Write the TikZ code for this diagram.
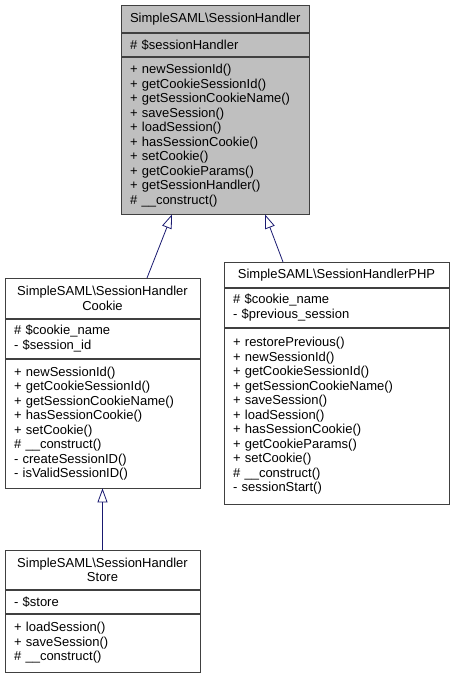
\documentclass[tikz,border=0pt]{standalone}
\usepackage{fontspec}
\setmainfont{Liberation Sans}
\usetikzlibrary{positioning,arrows.meta}
\definecolor{basegray}{HTML}{BFBFBF}
\definecolor{framegray}{HTML}{404040}
\definecolor{edgeblue}{HTML}{191970}

\begin{document}
\begin{tikzpicture}[x=1pt,y=-1pt,
    umlpart/.style={draw=framegray, line width=0.8pt, inner xsep=9pt, inner ysep=0pt,
      font=\fontsize{13}{14.5}\selectfont, align=left, anchor=north},
    umltitle/.style={umlpart, align=center},
    baseclass/.style={fill=basegray},
    inherit/.style={draw=edgeblue, line width=0.8pt, -{Triangle[open, length=14pt, width=10pt]}}
  ]
  \useasboundingbox (0,0) rectangle (453,676);

  \node[umltitle, baseclass, text width=170pt, minimum height=27pt] (handlerTitle) at (215,5)
    {SimpleSAML\textbackslash SessionHandler};
  \node[umlpart, baseclass, text width=170pt, minimum height=23pt, below=0pt of handlerTitle] (handlerAttrs)
    {\# \$sessionHandler};
  \node[umlpart, baseclass, text width=170pt, minimum height=157pt, below=0pt of handlerAttrs] (handlerMethods)
    {+ newSessionId()\\
     + getCookieSessionId()\\
     + getSessionCookieName()\\
     + saveSession()\\
     + loadSession()\\
     + hasSessionCookie()\\
     + setCookie()\\
     + getCookieParams()\\
     + getSessionHandler()\\
     \# \_\_construct()};

  \node[umltitle, text width=177pt, minimum height=40pt] (cookieTitle) at (102.5,278)
    {SimpleSAML\textbackslash SessionHandler\\Cookie};
  \node[umlpart, text width=177pt, minimum height=39pt, below=0pt of cookieTitle] (cookieAttrs)
    {\# \$cookie\_name\\
     - \$session\_id};
  \node[umlpart, text width=177pt, minimum height=129pt, below=0pt of cookieAttrs] (cookieMethods)
    {+ newSessionId()\\
     + getCookieSessionId()\\
     + getSessionCookieName()\\
     + hasSessionCookie()\\
     + setCookie()\\
     \# \_\_construct()\\
     - createSessionID()\\
     - isValidSessionID()};

  \node[umltitle, text width=207pt, minimum height=25pt] (phpTitle) at (336.5,262)
    {SimpleSAML\textbackslash SessionHandlerPHP};
  \node[umlpart, text width=207pt, minimum height=39pt, below=0pt of phpTitle] (phpAttrs)
    {\# \$cookie\_name\\
     - \$previous\_session};
  \node[umlpart, text width=207pt, minimum height=176pt, below=0pt of phpAttrs] (phpMethods)
    {+ restorePrevious()\\
     + newSessionId()\\
     + getCookieSessionId()\\
     + getSessionCookieName()\\
     + saveSession()\\
     + loadSession()\\
     + hasSessionCookie()\\
     + getCookieParams()\\
     + setCookie()\\
     \# \_\_construct()\\
     - sessionStart()};

  \node[umltitle, text width=177pt, minimum height=39pt] (storeTitle) at (102.5,550)
    {SimpleSAML\textbackslash SessionHandler\\Store};
  \node[umlpart, text width=177pt, minimum height=23pt, below=0pt of storeTitle] (storeAttrs)
    {- \$store};
  \node[umlpart, text width=177pt, minimum height=58pt, below=0pt of storeAttrs] (storeMethods)
    {+ loadSession()\\
     + saveSession()\\
     \# \_\_construct()};

  \draw[inherit] ([xshift=44.5pt]cookieTitle.north) -- ([xshift=-43pt]handlerMethods.south);
  \draw[inherit] ([xshift=-53.5pt]phpTitle.north) -- ([xshift=50pt]handlerMethods.south);
  \draw[inherit] (storeTitle.north) -- (cookieMethods.south);
\end{tikzpicture}
\end{document}
